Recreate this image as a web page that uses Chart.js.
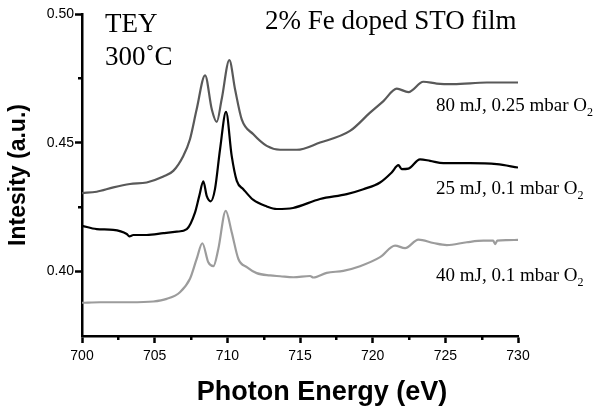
<!DOCTYPE html>
<html>
<head>
<meta charset="utf-8">
<script src="https://cdn.jsdelivr.net/npm/chart.js@4.4.0/dist/chart.umd.min.js"></script>
<style>
  body { margin: 0; background: #fff; }
  #wrap { width: 604px; height: 410px; }
</style>
</head>
<body>
<div id="wrap"><canvas id="grafico" width="604" height="410"></canvas></div>
<script>
const energia80 = [700.0, 701.01, 702.16, 703.30, 704.45, 705.60, 706.28, 706.97, 707.43, 707.89, 708.47, 708.93, 709.27, 709.61, 710.14, 710.53, 710.99, 711.79, 712.71, 713.63, 714.78, 716.38, 718.44, 719.82, 720.74, 721.66, 722.46, 723.49, 724.41, 725.55, 727.85, 730.0];
const senal80 = [0.4305, 0.4310, 0.4327, 0.4340, 0.4346, 0.4369, 0.4391, 0.4449, 0.4514, 0.4630, 0.4762, 0.4630, 0.4581, 0.4669, 0.4821, 0.4708, 0.4591, 0.4533, 0.4488, 0.4473, 0.4473, 0.4501, 0.4546, 0.4617, 0.4662, 0.4710, 0.4697, 0.4737, 0.4730, 0.4728, 0.4734, 0.4734];

const energia25 = [700.0, 701.01, 702.15, 703.08, 703.26, 703.53, 704.45, 705.60, 706.52, 707.21, 707.78, 708.07, 708.35, 708.58, 708.86, 709.15, 709.50, 709.91, 710.30, 710.65, 711.10, 711.79, 712.71, 713.40, 714.52, 716.38, 718.22, 719.36, 720.51, 721.31, 721.77, 722.00, 722.46, 723.26, 723.95, 724.87, 726.70, 728.54, 730.0];
const senal25 = [0.4178, 0.4165, 0.4162, 0.4146, 0.4137, 0.4142, 0.4142, 0.4149, 0.4155, 0.4165, 0.4230, 0.4294, 0.4350, 0.4294, 0.4273, 0.4320, 0.4475, 0.4620, 0.4449, 0.4352, 0.4320, 0.4278, 0.4253, 0.4243, 0.4247, 0.4282, 0.4301, 0.4320, 0.4346, 0.4385, 0.4413, 0.4398, 0.4400, 0.4436, 0.4430, 0.4421, 0.4421, 0.4417, 0.4404];

const energia40 = [700.0, 701.24, 703.30, 704.91, 705.83, 706.74, 707.43, 707.89, 708.28, 708.69, 709.04, 709.38, 709.89, 710.30, 710.76, 711.34, 712.02, 712.94, 713.63, 714.54, 715.69, 715.92, 716.84, 717.98, 719.13, 720.51, 721.54, 722.23, 723.15, 724.18, 725.10, 726.48, 727.62, 728.29, 728.43, 728.57, 729.23, 730.0];
const senal40 = [0.3879, 0.3881, 0.3881, 0.3884, 0.3894, 0.3920, 0.3972, 0.4049, 0.4110, 0.4036, 0.4021, 0.4088, 0.4236, 0.4153, 0.4049, 0.4017, 0.3994, 0.3985, 0.3982, 0.3978, 0.3983, 0.3977, 0.3995, 0.4003, 0.4021, 0.4056, 0.4101, 0.4091, 0.4124, 0.4111, 0.4103, 0.4114, 0.4120, 0.4120, 0.4107, 0.4120, 0.4122, 0.4123];

// Ticks de los ejes
const xTicks = [700, 705, 710, 715, 720, 725, 730];
const xMenores = [702.5, 707.5, 712.5, 717.5, 722.5, 727.5];
const yTicks = [0.40, 0.45, 0.50];
const yMenores = [0.425, 0.475];

// Etiquetas de cada curva
const etiquetas = ["80 mJ, 0.25 mbar O", "25 mJ, 0.1 mbar O", "40 mJ, 0.1 mbar O"];

function puntos(e, s) {
  return e.map((v, i) => ({ x: v, y: s[i] }));
}

// Plugin que pinta las marcas menores y los textos
const textos = {
  id: "textos",
  afterDraw(chart) {
    const ctx = chart.ctx;
    const area = chart.chartArea;
    const ejeX = chart.scales.x;
    const ejeY = chart.scales.y;
    ctx.save();
    ctx.fillStyle = "#000";
    yMenores.forEach((v) => {
      const py = Math.round(ejeY.getPixelForValue(v));
      ctx.fillRect(area.left - 4, py - 1, 4, 2.5);
    });
    xMenores.forEach((v) => {
      const px = Math.round(ejeX.getPixelForValue(v));
      ctx.fillRect(px - 1, area.bottom, 2.5, 4);
    });

    ctx.textAlign = "left";
    ctx.textBaseline = "alphabetic";
    ctx.font = "27px 'Liberation Serif'";
    ctx.fillText("TEY", 105, 31.5);
    ctx.fillText("300˚C", 105, 65);
    ctx.fillText("2% Fe doped STO film", 265, 28.5);

    // Etiquetas de las curvas con subindice
    const bases = [110.5, 193.5, 280.5];
    etiquetas.forEach((t, i) => {
      ctx.font = "19px 'Liberation Serif'";
      ctx.fillText(t, 436, bases[i]);
      const w = ctx.measureText(t).width;
      ctx.font = "12px 'Liberation Serif'";
      ctx.fillText("2", 436 + w, bases[i] + 5);
    });

    // Titulo eje x
    ctx.font = "bold 27px 'Liberation Sans'";
    ctx.textAlign = "center";
    ctx.fillText("Photon Energy (eV)", 322, 400);
    ctx.restore();
  },
};

const grafico = document.getElementById("grafico");
new Chart(grafico, {
  type: "line",
  data: {
    datasets: [
      {
        label: "80 mJ, 0.25 mbar O2",
        data: puntos(energia80, senal80),
        borderColor: "#595959",
      },
      {
        label: "25 mJ, 0.1 mbar O2",
        data: puntos(energia25, senal25),
        borderColor: "#000000",
      },
      {
        label: "40 mJ, 0.1 mbar O2",
        data: puntos(energia40, senal40),
        borderColor: "#9c9c9c",
      },
    ],
  },
  options: {
    responsive: false,
    animation: false,
    layout: { padding: { left: 0, right: 86, top: 14, bottom: 0 } },
    elements: {
      point: { radius: 0 },
      line: { borderWidth: 2.2, cubicInterpolationMode: "monotone" },
    },
    plugins: {
      legend: { display: false },
      tooltip: { enabled: false },
    },
    scales: {
      x: {
        type: "linear",
        min: 700,
        max: 730,
        afterFit: (s) => { s.height = 74; },
        afterBuildTicks: (s) => { s.ticks = xTicks.map((v) => ({ value: v })); },
        grid: { drawOnChartArea: false, color: "#000", tickLength: 7, tickWidth: 2.5, tickColor: "#000" },
        border: { color: "#000", width: 2.5 },
        ticks: {
          color: "#000",
          padding: 5,
          font: { family: "'Liberation Sans'", size: 14 },
          maxRotation: 0,
          callback: (v) => v.toString(),
        },
      },
      y: {
        min: 0.375,
        max: 0.5,
        afterFit: (s) => { s.width = 82; },
        afterBuildTicks: (s) => { s.ticks = yTicks.map((v) => ({ value: v })); },
        grid: { drawOnChartArea: false, color: "#000", tickLength: 7, tickWidth: 2.5, tickColor: "#000" },
        border: { color: "#000", width: 2.5 },
        ticks: {
          color: "#000",
          padding: 1,
          font: { family: "'Liberation Sans'", size: 14 },
          callback: (v) => v.toFixed(2),
        },
        title: {
          display: true,
          text: "Intesity (a.u.)",
          color: "#000",
          padding: { top: 5 },
          font: { family: "'Liberation Sans'", size: 23, weight: "bold" },
        },
      },
    },
  },
  plugins: [textos],
});
</script>
</body>
</html>
